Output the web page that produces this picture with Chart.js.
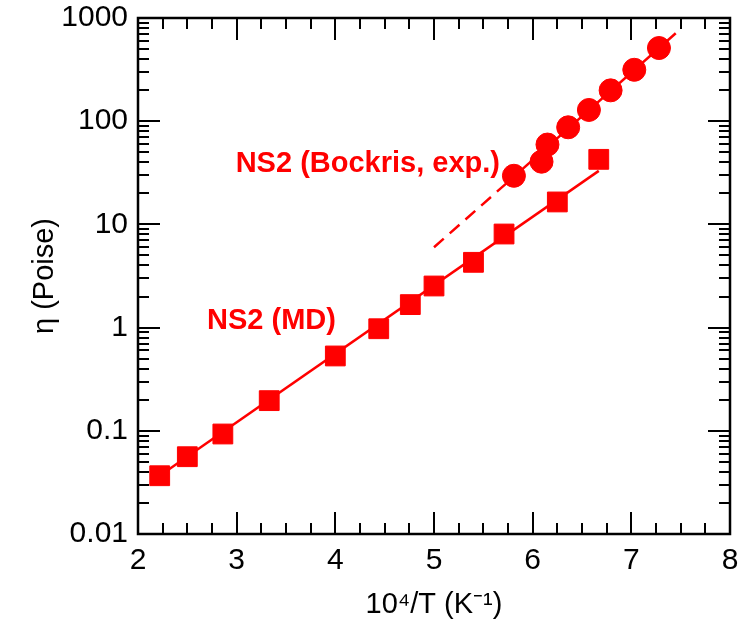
<!DOCTYPE html>
<html>
<head>
<meta charset="utf-8">
<script src="https://cdn.jsdelivr.net/npm/chart.js@4"></script>
<style>
  html, body { margin: 0; padding: 0; background: #fff; }
  #c { display: block; }
</style>
</head>
<body>
<canvas id="c" width="745" height="628"></canvas>
<script>
// NS2 (MD) squares
const mdX = [2.22, 2.50, 2.86, 3.33, 4.00, 4.44, 4.76, 5.00, 5.40, 5.71, 6.25, 6.67];
const mdY = [0.0367, 0.0561, 0.0931, 0.196, 0.531, 0.975, 1.67, 2.53, 4.29, 8.07, 16.5, 42.7];

// NS2 (Bockris, exp.) circles
const expX = [5.81, 6.09, 6.15, 6.36, 6.57, 6.79, 7.03, 7.28];
const expY = [29.6, 40.5, 59.4, 87.3, 128.5, 199, 315, 512];

// fitted lines (end points)
const mdFitX = [2.22, 6.67];
const mdFitY = [0.0367, 33];
const expFitX = [5.81, 7.45];
const expFitY = [29.0, 711];
const expDashX = [5.0, 5.81];
const expDashY = [6.0, 29.0];

const xTicks = [2, 3, 4, 5, 6, 7, 8];
const yTicks = [0.01, 0.1, 1, 10, 100, 1000];
const yTickLabels = ["0.01", "0.1", "1", "10", "100", "1000"];

const RED = "#ff0000";
const FONT = "'Liberation Sans', Arial, sans-serif";

const pts = (xs, ys) => xs.map((x, i) => ({ x: x, y: ys[i] }));

// inward ticks on all four sides + frame
const frameTicks = {
  id: "frameTicks",
  afterDraw(chart) {
    const { ctx, chartArea: a, scales: { x, y } } = chart;
    ctx.save();
    ctx.strokeStyle = "#000";
    ctx.lineWidth = 2;
    ctx.beginPath();
    for (let i = 0; i <= 24; i++) {
      const v = 2 + i * 0.25;
      const px = Math.round(x.getPixelForValue(v));
      const len = i % 4 === 0 ? 22 : 11;
      ctx.moveTo(px, a.bottom); ctx.lineTo(px, a.bottom - len);
      ctx.moveTo(px, a.top); ctx.lineTo(px, a.top + len);
    }
    for (let d = 0; d < yTicks.length - 1; d++) {
      for (let k = 1; k <= 9; k++) {
        const py = Math.round(y.getPixelForValue(yTicks[d] * k));
        const len = k === 1 ? 22 : 11;
        ctx.moveTo(a.left, py); ctx.lineTo(a.left + len, py);
        ctx.moveTo(a.right, py); ctx.lineTo(a.right - len, py);
      }
    }
    ctx.stroke();
    ctx.lineWidth = 2.5;
    ctx.strokeRect(a.left, a.top, a.right - a.left, a.bottom - a.top);

    // series labels
    ctx.fillStyle = RED;
    ctx.font = "bold 29px " + FONT;
    ctx.textBaseline = "alphabetic";
    ctx.textAlign = "left";
    ctx.fillText("NS2 (Bockris, exp.)", x.getPixelForValue(2.99), y.getPixelForValue(32.5));
    ctx.fillText("NS2 (MD)", x.getPixelForValue(2.70), y.getPixelForValue(0.97));
    ctx.restore();
  }
};

new Chart(document.getElementById("c"), {
  type: "scatter",
  data: {
    datasets: [
      {
        label: "NS2 (Bockris, exp.)",
        data: pts(expX, expY),
        pointStyle: "circle",
        pointRadius: 11.5,
        backgroundColor: RED,
        borderColor: RED,
        borderWidth: 1,
        showLine: false,
        order: 0
      },
      {
        label: "NS2 (MD)",
        data: pts(mdX, mdY),
        pointStyle: "rect",
        pointRadius: 14,
        backgroundColor: RED,
        borderColor: RED,
        borderWidth: 1,
        showLine: false,
        order: 1
      },
      {
        data: pts(mdFitX, mdFitY),
        showLine: true,
        pointRadius: 0,
        borderColor: RED,
        borderWidth: 2.5,
        order: 2
      },
      {
        data: pts(expFitX, expFitY),
        showLine: true,
        pointRadius: 0,
        borderColor: RED,
        borderWidth: 2.5,
        order: 3
      },
      {
        data: pts(expDashX, expDashY),
        showLine: true,
        pointRadius: 0,
        borderColor: RED,
        borderWidth: 2.5,
        borderDash: [13, 8],
        order: 4
      }
    ]
  },
  options: {
    responsive: false,
    animation: false,
    devicePixelRatio: 1,
    layout: { padding: { left: 0, right: 10, top: 18, bottom: 0 } },
    plugins: {
      legend: { display: false },
      tooltip: { enabled: false }
    },
    scales: {
      x: {
        type: "linear",
        min: 2,
        max: 8,
        grid: { display: false, drawTicks: false },
        border: { display: false },
        afterBuildTicks: s => { s.ticks = xTicks.map(v => ({ value: v })); },
        afterFit: s => { s.height = 94; s.paddingLeft = 0; s.paddingRight = 0; },
        ticks: {
          color: "#000",
          font: { family: FONT, size: 30 },
          padding: 9,
          maxRotation: 0,
          callback: v => String(v)
        },
        title: {
          display: true,
          text: "10⁴/T (K⁻¹)",
          color: "#000",
          font: { family: FONT, size: 29 },
          padding: { top: 0, bottom: 6 }
        }
      },
      y: {
        type: "logarithmic",
        min: 0.01,
        max: 1000,
        grid: { display: false, drawTicks: false },
        border: { display: false },
        afterBuildTicks: s => { s.ticks = yTicks.map(v => ({ value: v })); },
        afterFit: s => { s.width = 138; s.paddingTop = 0; s.paddingBottom = 0; },
        ticks: {
          color: "#000",
          font: { family: FONT, size: 30 },
          padding: 10,
          callback: v => {
            const i = yTicks.findIndex(t => Math.abs(t - v) / t < 1e-6);
            return i >= 0 ? yTickLabels[i] : "";
          }
        },
        title: {
          display: true,
          text: "η (Poise)",
          color: "#000",
          font: { family: FONT, size: 29 },
          padding: { top: 28, bottom: 0 }
        }
      }
    }
  },
  plugins: [frameTicks]
});
</script>
</body>
</html>
